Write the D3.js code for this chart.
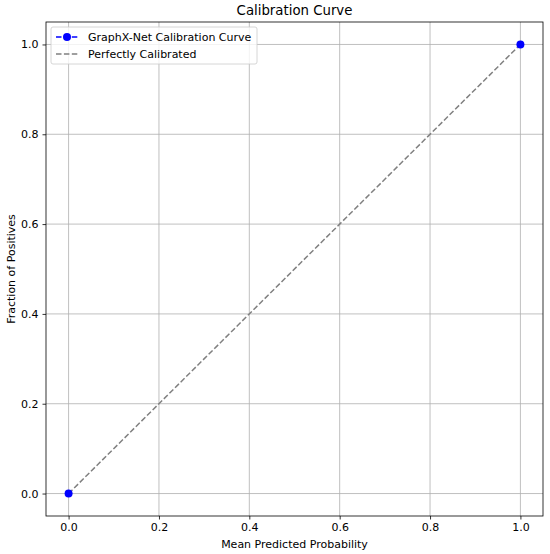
<!DOCTYPE html>
<meta charset="utf-8">
<style>
body { margin: 0; background: #fff; }
text { font-family: "DejaVu Sans", sans-serif; fill: #000; }
</style>
<body>
<script src="https://cdn.jsdelivr.net/npm/d3@7"></script>
<script>
// data
var predicted = [0.0, 1.0];
var observed = [0.0, 1.0];
var diagonal = [[0, 0], [1, 1]];
var ticks = [0.0, 0.2, 0.4, 0.6, 0.8, 1.0];

var W = 550, H = 554;
var margin = {top: 22, right: 7, bottom: 38, left: 46},
    width = W - margin.left - margin.right,
    height = H - margin.top - margin.bottom;

var x = d3.scaleLinear().domain([-0.05, 1.05]).range([0, width]);
var y = d3.scaleLinear().domain([-0.05, 1.05]).range([height, 0]);

var svg = d3.select("body").append("svg")
    .attr("width", W)
    .attr("height", H);

var g = svg.append("g")
    .attr("transform", "translate(" + margin.left + "," + margin.top + ")");

// grid
g.append("g").selectAll("line").data(ticks).enter().append("line")
    .attr("x1", d => x(d)).attr("x2", d => x(d))
    .attr("y1", 0).attr("y2", height)
    .attr("stroke", "#b0b0b0").attr("stroke-width", 0.8);
g.append("g").selectAll("line").data(ticks).enter().append("line")
    .attr("y1", d => y(d)).attr("y2", d => y(d))
    .attr("x1", 0).attr("x2", width)
    .attr("stroke", "#b0b0b0").attr("stroke-width", 0.8);

// axes
var xAxis = g.append("g")
    .attr("transform", "translate(0," + height + ")")
    .call(d3.axisBottom(x).tickValues(ticks).tickFormat(d3.format(".1f")).tickSize(3.5).tickPadding(4));
var yAxis = g.append("g")
    .call(d3.axisLeft(y).tickValues(ticks).tickFormat(d3.format(".1f")).tickSize(3.5).tickPadding(4));
[xAxis, yAxis].forEach(function(a) {
  a.select(".domain").remove();
  a.selectAll("text").attr("font-size", 11).attr("font-family", "DejaVu Sans").attr("fill", "#000");
  a.selectAll("line").attr("stroke", "#000").attr("stroke-width", 0.8);
});

// frame
g.append("rect")
    .attr("width", width).attr("height", height)
    .attr("fill", "none").attr("stroke", "#000").attr("stroke-width", 0.8);

// perfectly calibrated
var line = d3.line().x(d => x(d[0])).y(d => y(d[1]));
g.append("path")
    .datum(diagonal)
    .attr("d", line)
    .attr("fill", "none")
    .attr("stroke", "#808080")
    .attr("stroke-width", 1.5)
    .attr("stroke-dasharray", "5.5,2.4");

// model curve (hidden under the diagonal, markers on top)
var pts = predicted.map((p, i) => [p, observed[i]]);
g.append("g").selectAll("circle").data(pts).enter().append("circle")
    .attr("cx", d => x(d[0])).attr("cy", d => y(d[1]))
    .attr("r", 4)
    .attr("fill", "#0000ff");

// legend
var leg = g.append("g").attr("transform", "translate(5,5)");
leg.append("rect")
    .attr("width", 206).attr("height", 37).attr("rx", 2)
    .attr("fill", "#fff").attr("fill-opacity", 0.8)
    .attr("stroke", "#ccc").attr("stroke-width", 0.8);
leg.append("line")
    .attr("x1", 5).attr("x2", 27).attr("y1", 10).attr("y2", 10)
    .attr("stroke", "#0000ff").attr("stroke-width", 1.5).attr("stroke-dasharray", "5.5,2.4");
leg.append("circle").attr("cx", 16).attr("cy", 10).attr("r", 4).attr("fill", "#0000ff");
leg.append("text").attr("x", 37).attr("y", 14).attr("font-size", 11).text("GraphX-Net Calibration Curve");
leg.append("line")
    .attr("x1", 5).attr("x2", 27).attr("y1", 27).attr("y2", 27)
    .attr("stroke", "#808080").attr("stroke-width", 1.5).attr("stroke-dasharray", "5.5,2.4");
leg.append("text").attr("x", 37).attr("y", 31).attr("font-size", 11).text("Perfectly Calibrated");

// titles
svg.append("text")
    .attr("x", margin.left + width / 2).attr("y", 15)
    .attr("text-anchor", "middle").attr("font-size", 13.3)
    .text("Calibration Curve");
svg.append("text")
    .attr("x", margin.left + width / 2).attr("y", 548)
    .attr("text-anchor", "middle").attr("font-size", 11)
    .text("Mean Predicted Probability");
svg.append("text")
    .attr("transform", "translate(15," + (margin.top + height / 2) + ") rotate(-90)")
    .attr("text-anchor", "middle").attr("font-size", 11)
    .text("Fraction of Positives");
</script>
</body>
